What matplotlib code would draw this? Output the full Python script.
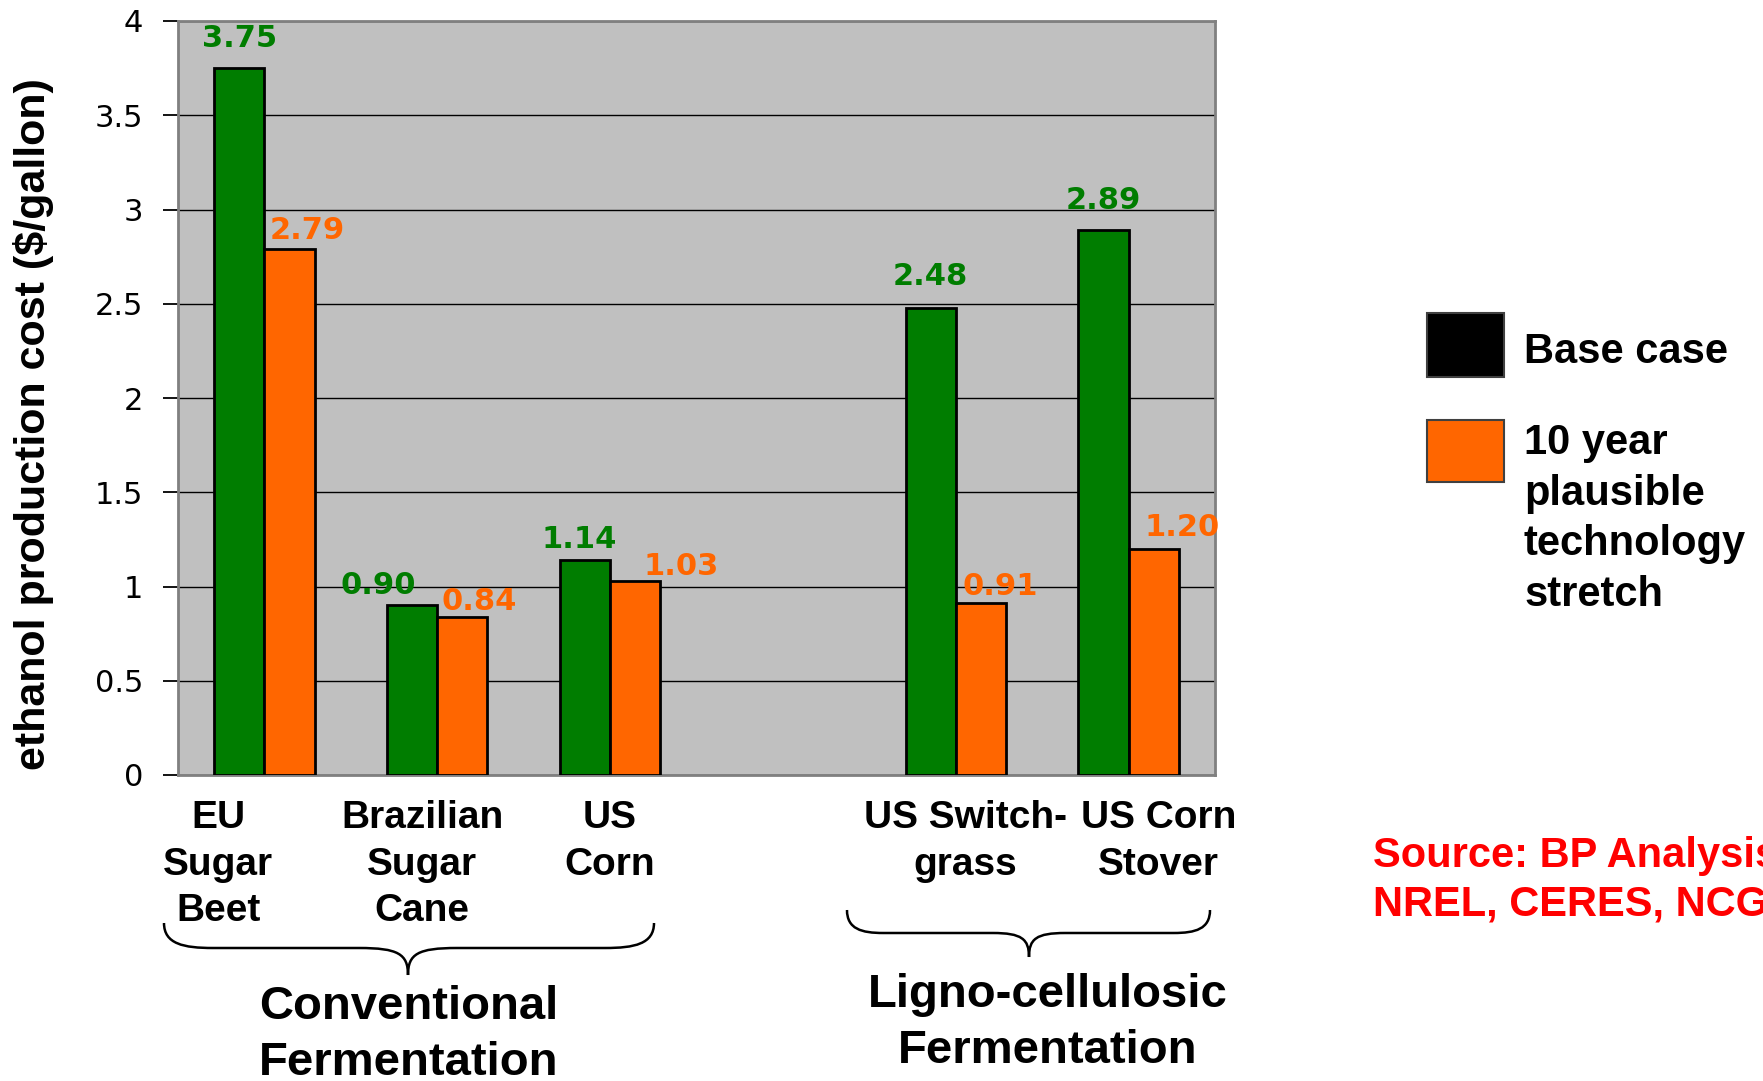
import matplotlib.pyplot as plt
import numpy as np
from matplotlib.patches import Rectangle, PathPatch
from matplotlib.path import Path

# ethanol production cost, $/gallon
categories = ["EU\nSugar\nBeet", "Brazilian\nSugar\nCane", "US\nCorn",
              "US Switch-\ngrass", "US Corn\nStover"]
base_case = [3.75, 0.90, 1.14, 2.48, 2.89]
stretch_case = [2.79, 0.84, 1.03, 0.91, 1.20]
group_names = ["Conventional\nFermentation", "Ligno-cellulosic\nFermentation"]
group_sizes = [3, 2]
legend_labels = ["Base case", "10 year\nplausible\ntechnology\nstretch"]
y_ticks = [0, 0.5, 1, 1.5, 2, 2.5, 3, 3.5, 4]

GREEN = "#007D00"
ORANGE = "#FF6600"
PANEL = "#C0C0C0"
W, H = 1763, 1081
BOLD = "Liberation Sans"


def fx(px):
    return px / W


def fy(py):
    return 1 - py / H


# slot positions: one empty slot between the two groups
xpos = []
start = 0
for n in group_sizes:
    xpos += list(range(start, start + n))
    start += n + 1
xpos = np.array(xpos, dtype=float)

fig = plt.figure(figsize=(W / 100, H / 100), dpi=100)
ax = fig.add_axes([fx(178), fy(775), fx(1215) - fx(178), fy(21) - fy(775)])
ax.set_facecolor(PANEL)

bw = 0.29
ax.bar(xpos - bw / 2, base_case, bw, color=GREEN, edgecolor="black", linewidth=2, zorder=3)
ax.bar(xpos + bw / 2, stretch_case, bw, color=ORANGE, edgecolor="black", linewidth=2, zorder=3)

ax.set_xlim(-0.5, 5.5)
ax.set_ylim(0, 4)
ax.set_yticks(y_ticks)
ax.set_yticklabels([f"{t:g}" for t in y_ticks], fontsize=22, family="DejaVu Sans")
ax.tick_params(axis="y", length=11, width=1.3, color="black", pad=14)
ax.set_xticks([])
ax.yaxis.grid(True, color="black", linewidth=1)
ax.set_axisbelow(True)
for s in ax.spines.values():
    s.set_color("#808080")
    s.set_linewidth(2)

# value labels, nudged in pixels
green_dx = [0, -34, -6, 0, 0]
green_dy = [30, 20, 21, 31, 30]
orange_dx = [18, 17, 46, 19, 28]
orange_dy = [19, 15, 14, 17, 21]
for i, x in enumerate(xpos):
    ax.annotate(f"{base_case[i]:.2f}", (x - bw / 2, base_case[i]),
                xytext=(green_dx[i], green_dy[i]), textcoords="offset pixels",
                ha="center", va="center", color=GREEN, fontsize=22,
                fontweight="bold", family="DejaVu Sans", zorder=5)
    ax.annotate(f"{stretch_case[i]:.2f}", (x + bw / 2, stretch_case[i]),
                xytext=(orange_dx[i], orange_dy[i]), textcoords="offset pixels",
                ha="center", va="center", color=ORANGE, fontsize=22,
                fontweight="bold", family="DejaVu Sans", zorder=5)

# category names under the bars
cat_dx = [-46, -15, 0, 10, 30]
for i, x in enumerate(xpos):
    ax.annotate(categories[i], (x, 0), xytext=(cat_dx[i], -(800 - 775)),
                textcoords="offset pixels", ha="center", va="top",
                multialignment="center", fontsize=28, fontweight="bold",
                family=BOLD, linespacing=1.38, annotation_clip=False)

fig.text(fx(34), fy(424), "ethanol production cost ($/gallon)", rotation=90,
         ha="center", va="center", fontsize=31, fontweight="bold", family=BOLD)


def brace(x0, x1, cx, ytop, ymid, ytip):
    r = 0.1 * (x1 - x0)
    pts = [
        (x0, ytop), (x0, ymid - 4), (x0 + r * 0.4, ymid), (x0 + r, ymid),
        (cx - r, ymid), (cx - r * 0.2, ymid), (cx, ymid + 6), (cx, ytip),
        (cx, ymid + 6), (cx + r * 0.2, ymid), (cx + r, ymid),
        (x1 - r, ymid), (x1 - r * 0.4, ymid), (x1, ymid - 4), (x1, ytop),
    ]
    codes = [Path.MOVETO, Path.CURVE4, Path.CURVE4, Path.CURVE4,
             Path.LINETO, Path.CURVE4, Path.CURVE4, Path.CURVE4,
             Path.CURVE4, Path.CURVE4, Path.CURVE4,
             Path.LINETO, Path.CURVE4, Path.CURVE4, Path.CURVE4]
    verts = [(fx(a), fy(b)) for a, b in pts]
    fig.add_artist(PathPatch(Path(verts, codes), transform=fig.transFigure,
                             facecolor="none", edgecolor="black", linewidth=1.8))


brace(164, 654, 408, 923, 948, 975)
brace(847, 1210, 1029, 910, 933, 957)

fig.text(fx(409), fy(985), group_names[0], ha="center", va="top",
         fontsize=34, fontweight="bold", family=BOLD, linespacing=1.36)
fig.text(fx(1048), fy(973), group_names[1], ha="center", va="top",
         fontsize=34, fontweight="bold", family=BOLD, linespacing=1.36)

# legend
fig.add_artist(Rectangle((fx(1427), fy(377)), fx(1504) - fx(1427), fy(313) - fy(377),
                         transform=fig.transFigure, facecolor="black",
                         edgecolor="#404040", linewidth=1.5))
fig.text(fx(1524), fy(352), legend_labels[0], ha="left", va="center",
         fontsize=30, fontweight="bold", family=BOLD)
fig.add_artist(Rectangle((fx(1427), fy(482)), fx(1504) - fx(1427), fy(420) - fy(482),
                         transform=fig.transFigure, facecolor=ORANGE,
                         edgecolor="#404040", linewidth=1.5))
fig.text(fx(1524), fy(423), legend_labels[1], ha="left", va="top",
         fontsize=30, fontweight="bold", family=BOLD, linespacing=1.34)

fig.text(fx(1373), fy(836), "Source: BP Analysis,\nNREL, CERES, NCGA", ha="left",
         va="top", color="#FF0000", fontsize=30, fontweight="bold", family=BOLD,
         linespacing=1.28)

fig.savefig("out.png", dpi=100)
